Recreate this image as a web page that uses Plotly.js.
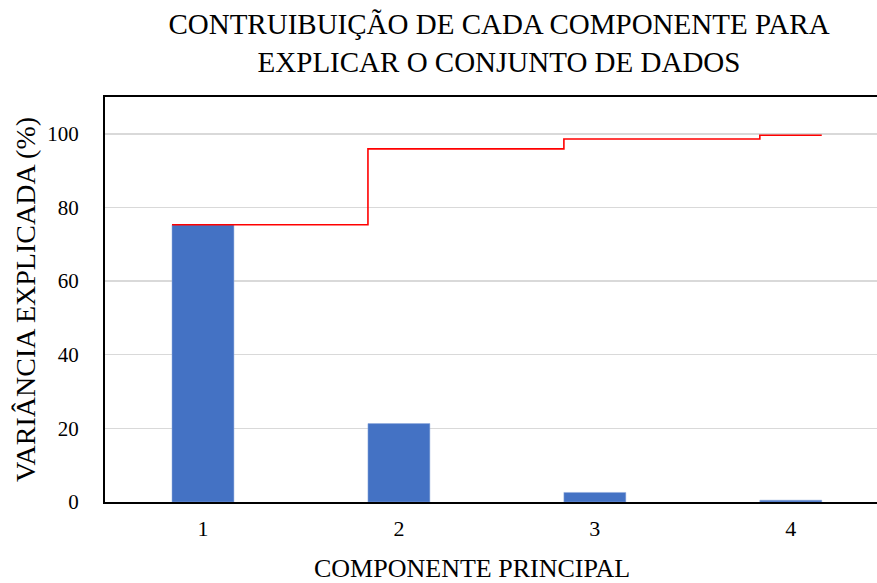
<!DOCTYPE html>
<html>
<head>
<meta charset="utf-8">
<script src="https://cdn.plot.ly/plotly-3.0.1.min.js"></script>
<style>html,body{margin:0;padding:0;background:#fff;}#chart{width:877px;height:583px;}</style>
</head>
<body>
<div id="chart"></div>
<script>
const componentes = [1, 2, 3, 4];
const variancia = [75.3, 21.3, 2.6, 0.5];
const acumulada = [75.3, 95.9, 98.6, 99.6];
const tickLabels = ['1', '2', '3', '4'];
const yTicks = [0, 20, 40, 60, 80, 100];

const barWidth = 0.316;
// step line starts at each bar's left edge, ends at last bar's right edge
const stepX = componentes.map(c => c - barWidth / 2).concat([componentes[componentes.length - 1] + barWidth / 2]);
const stepY = acumulada.concat([acumulada[acumulada.length - 1]]);

const font = 'Liberation Serif, Times New Roman, serif';

const data = [
  {
    type: 'bar',
    x: componentes,
    y: variancia,
    width: barWidth,
    marker: {color: '#4472C4', line: {color: '#8FAADC', width: 0.5}},
    hoverinfo: 'x+y'
  },
  {
    type: 'scatter',
    mode: 'lines',
    x: stepX,
    y: stepY,
    line: {color: '#FF0000', width: 1.6, shape: 'hv'},
    hoverinfo: 'y'
  }
];

const layout = {
  width: 877,
  height: 583,
  margin: {l: 105, r: 0, t: 97, b: 81},
  paper_bgcolor: '#fff',
  plot_bgcolor: '#fff',
  showlegend: false,
  font: {family: font, color: '#000'},
  title: {
    text: 'CONTRUIBUIÇÃO DE CADA COMPONENTE PARA<br>EXPLICAR O CONJUNTO DE DADOS',
    font: {family: font, size: 29, color: '#000'},
    x: 0.569, xanchor: 'center',
    y: 0.942, yanchor: 'top', yref: 'container'
  },
  xaxis: {
    range: [0.5, 4.44],
    tickvals: componentes,
    ticktext: tickLabels,
    tickfont: {family: font, size: 22, color: '#000'},
    showgrid: false,
    zeroline: false,
    showline: true,
    linecolor: '#000',
    linewidth: 2,
    mirror: true,
    ticks: '',
    ticklabelstandoff: 6
  },
  yaxis: {
    range: [0, 110],
    tickvals: yTicks,
    tickfont: {family: font, size: 21, color: '#000'},
    showgrid: true,
    gridcolor: '#D9D9D9',
    gridwidth: 1.5,
    zeroline: false,
    showline: true,
    linecolor: '#000',
    linewidth: 2,
    ticks: '',
    ticklabelstandoff: 20,
    title: {text: 'VARIÂNCIA EXPLICADA (%)', font: {family: font, size: 28, color: '#000'}, standoff: 3}
  },
  annotations: [{
    text: 'COMPONENTE PRINCIPAL',
    xref: 'paper', yref: 'paper',
    x: 0.475, y: -0.165,
    xanchor: 'center', yanchor: 'middle',
    showarrow: false,
    font: {family: font, size: 26, color: '#000'}
  }]
};

Plotly.newPlot('chart', data, layout, {displayModeBar: false, staticPlot: true});
</script>
</body>
</html>
